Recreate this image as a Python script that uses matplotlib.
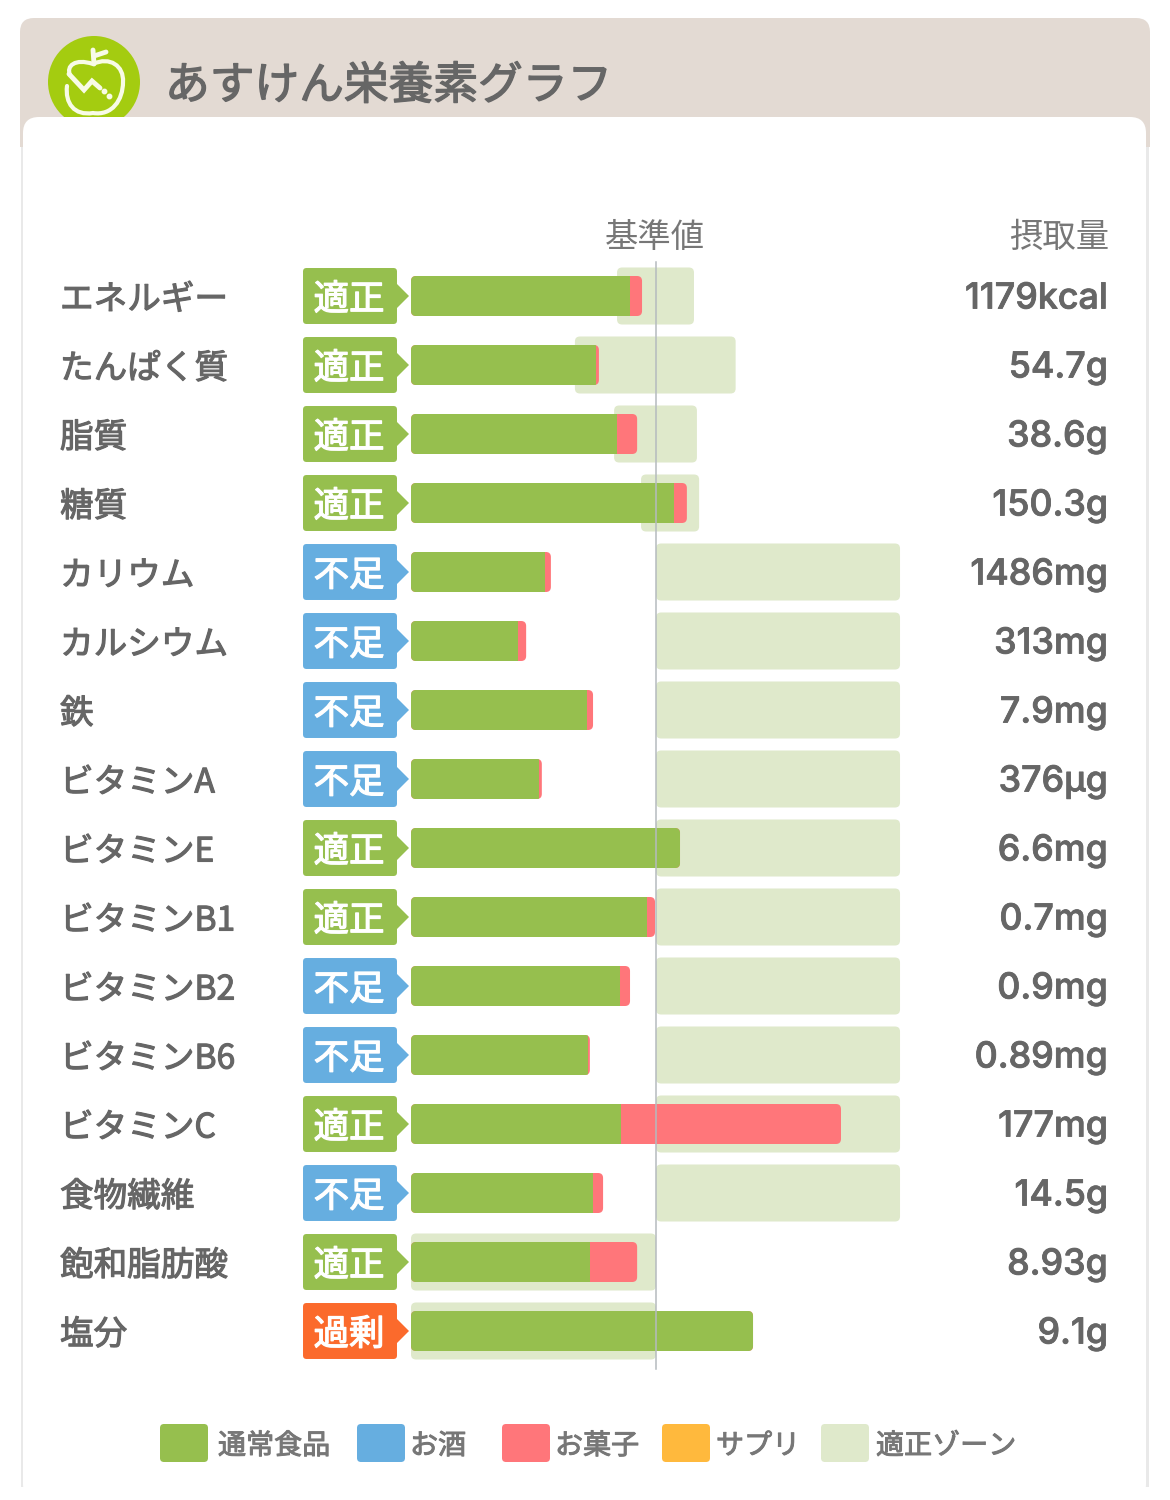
import matplotlib
matplotlib.use("Agg")
import matplotlib.pyplot as plt
import matplotlib.patheffects as pe
from matplotlib.patches import FancyBboxPatch, Rectangle, PathPatch, Circle, Polygon
from matplotlib.path import Path
from matplotlib.transforms import blended_transform_factory as blend

plt.rcParams['font.family'] = ['Noto Sans CJK JP', 'DejaVu Sans']

title = 'あすけん栄養素グラフ'
col_base = '基準値'
col_intake = '摂取量'
nutrients = ['エネルギー', 'たんぱく質', '脂質', '糖質', 'カリウム', 'カルシウム', '鉄', 'ビタミンA',
             'ビタミンE', 'ビタミンB1', 'ビタミンB2', 'ビタミンB6', 'ビタミンC', '食物繊維', '飽和脂肪酸', '塩分']
status = ['適正', '適正', '適正', '適正', '不足', '不足', '不足', '不足',
          '適正', '適正', '不足', '不足', '適正', '不足', '適正', '過剰']
intake = ['1179kcal', '54.7g', '38.6g', '150.3g', '1486mg', '313mg', '7.9mg', '376µg',
          '6.6mg', '0.7mg', '0.9mg', '0.89mg', '177mg', '14.5g', '8.93g', '9.1g']
# percentage of the reference value
food = [89.4, 75.5, 84.1, 107.3, 54.7, 43.7, 71.8, 52.2, 109.8, 96.3, 85.3, 72.2, 85.7, 74.3, 73.1, 139.6]
snack = [4.9, 1.2, 8.2, 5.3, 2.4, 3.3, 2.5, 1.2, 0, 3.3, 4.1, 0.8, 89.8, 4.1, 19.2, 0]
zone_lo = [84.1, 66.9, 82.9, 93.9, 100, 100, 100, 100, 100, 100, 100, 100, 100, 100, 0, 0]
zone_hi = [115.5, 132.5, 116.7, 117.6, 199.6, 199.6, 199.6, 199.6, 199.6, 199.6, 199.6, 199.6, 199.6, 199.6, 100, 100]
legend_names = ['通常食品', 'お酒', 'お菓子', 'サプリ', '適正ゾーン']

GREEN, BLUE, PINK, ORANGE, ZONE = '#96bf4e', '#66aee0', '#ff767a', '#ffb93d', '#dfe9cb'
legend_cols = [GREEN, BLUE, PINK, ORANGE, ZONE]
status_cols = {'適正': GREEN, '不足': BLUE, '過剰': '#fb6a2c'}
TXT = '#666666'

W, H = 1170, 1500
X0, XPP = 411, 2.45      # px of 0 %, px per %
Y0, YPR = 296, 69.0      # px of first row, px per row

fig = plt.figure(figsize=(W / 100, H / 100), dpi=100, facecolor='white')

# page chrome, in pixel coordinates
bg = fig.add_axes([0, 0, 1, 1], zorder=0)
bg.set_xlim(0, W); bg.set_ylim(H, 0); bg.axis('off')


def rbox(ax, x0, y0, x1, y1, r, color, z=1):
    p = FancyBboxPatch((x0 + r, y0 + r), x1 - x0 - 2 * r, y1 - y0 - 2 * r,
                       boxstyle=f'round,pad={r},rounding_size={r}', fc=color, ec='none', zorder=z)
    ax.add_patch(p)
    return p


def medium(color, w=0.7):
    return [pe.withStroke(linewidth=w, foreground=color)]


rbox(bg, 20, 18, 1150, 190, 14, '#e3dad3', 1)
bg.add_patch(Rectangle((0, 147), W, H - 147, fc='white', ec='none', zorder=1.05))
bg.add_patch(Rectangle((21, 147), 1128, 1340, fc='#e9e9e9', ec='none', zorder=1.1))
bg.add_patch(Circle((94, 82), 46, fc='#a4cc10', ec='none', zorder=2))

# apple logo
LW = 3.0
FG = '#f8fbe6'
bg.add_patch(PathPatch(Path(
    [(70, 75), (66, 66), (75, 58), (93, 64), (110, 56), (124, 66), (123, 82),
     (123, 100), (112, 116), (93, 113), (74, 116), (65, 103), (67, 86)],
    [Path.MOVETO] + [Path.CURVE4] * 12), fc='none', ec=FG, lw=LW, capstyle='round', zorder=3))
bg.plot([93, 94], [50, 64], color=FG, lw=LW + .5, solid_capstyle='round', zorder=3)
bg.plot([94, 106], [56, 52], color=FG, lw=LW + .5, solid_capstyle='round', zorder=3)
bg.plot([69, 84, 92, 100], [74, 90, 81, 88], color=FG, lw=LW + .5, solid_capstyle='round',
        solid_joinstyle='miter', zorder=3)
bg.plot([104, 109], [91, 96], ls='none', marker='o', ms=3.2, color=FG, zorder=3)

rbox(bg, 23, 117, 1146, 1500, 16, 'white', 4)
bg.add_patch(Rectangle((0, 1487), W, 13, fc='white', ec='none', zorder=5))

bg.text(165, 86, title, fontsize=32.2, color=TXT, va='center', ha='left', zorder=6,
        path_effects=medium(TXT, 1.0))
bg.text(655, 237, col_base, fontsize=24, color='#777777', va='center', ha='center', zorder=6)
bg.text(1109, 237, col_intake, fontsize=24, color='#777777', va='center', ha='right', zorder=6)

# chart, with x in % of the reference and y in rows
ax = fig.add_axes([0, 0, 1, 1], zorder=1)
ax.set_xlim(-X0 / XPP, (W - X0) / XPP)
ax.set_ylim((H - Y0) / YPR, -Y0 / YPR)
ax.axis('off'); ax.patch.set_alpha(0)
aspect = XPP / YPR


def rbar(x0, x1, row, hpx, rpx, color, z):
    h = hpx / YPR
    r = rpx / XPP
    p = FancyBboxPatch((x0 + r, row - h / 2 + r * aspect), x1 - x0 - 2 * r, h - 2 * r * aspect,
                       boxstyle=f'round,pad={r},rounding_size={r}', mutation_aspect=aspect,
                       fc=color, ec='none', zorder=z)
    ax.add_patch(p)
    return p


tx = blend(bg.transData, ax.transData)
for i, name in enumerate(nutrients):
    rbar(zone_lo[i], zone_hi[i], i, 57, 5, ZONE, 2)
    total = food[i] + snack[i]
    rbar(0, total, i, 40, 5, PINK, 3)
    g = rbar(0, total, i, 40, 5, GREEN, 4)
    if snack[i] > 0:
        clip = Rectangle((-10, i - 1), food[i] + 10, 2, transform=ax.transData)
        g.set_clip_path(clip)
    # status badge
    c = status_cols[status[i]]
    b = FancyBboxPatch((303 + 3, i - 28 / YPR + 3 / YPR), 94 - 6, (56 - 6) / YPR, transform=tx,
                       boxstyle='square,pad=0', fc=c, ec=c, lw=4.3, joinstyle='round', zorder=3)
    ax.add_patch(b)
    ax.add_patch(Polygon([(396, i - 13 / YPR), (409, i), (396, i + 13 / YPR)], closed=True,
                         transform=tx, fc=c, ec='none', zorder=3))
    ax.text(349, i + 4 / YPR, status[i], transform=tx, color='white', fontsize=25.5,
            ha='center', va='center', zorder=5, path_effects=medium('white', 0.9))
    ax.text(60, i + 4 / YPR, name, transform=tx, color=TXT, fontsize=24.2,
            ha='left', va='center', zorder=5, path_effects=medium(TXT, 0.8))
    ax.text(1108, i + 3 / YPR, intake[i], transform=tx, color=TXT, fontsize=25.8, weight=500,
            family=['Inter', 'DejaVu Sans'], ha='right', va='center', zorder=5,
            path_effects=medium(TXT, 0.6))

ax.plot([100, 100], [-0.49, 15.55], color='#b5bbbf', lw=1.1, zorder=6)

# legend
sw_x = [160, 357, 502, 662, 821]
tx_x = [218, 410, 555, 716, 876]
for sx, tt, nm, col in zip(sw_x, tx_x, legend_names, legend_cols):
    rbox(bg, sx, 1424, sx + 48, 1462, 4, col, 6)
    bg.text(tt, 1446, nm, fontsize=20.2, color='#777777', va='center', ha='left', zorder=6,
            path_effects=medium('#777777', 0.7))

fig.savefig('out.png', dpi=100, facecolor='white')
